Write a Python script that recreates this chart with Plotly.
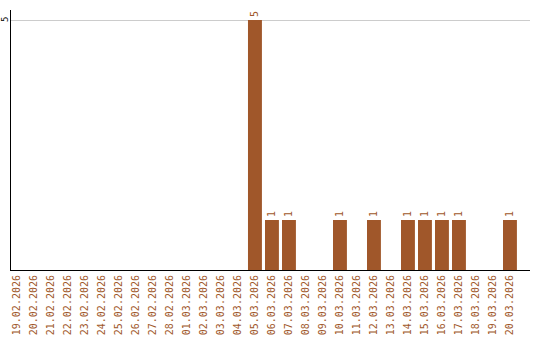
import plotly.graph_objects as go

dates = ["19.02.2026","20.02.2026","21.02.2026","22.02.2026","23.02.2026","24.02.2026","25.02.2026",
         "26.02.2026","27.02.2026","28.02.2026","01.03.2026","02.03.2026","03.03.2026","04.03.2026",
         "05.03.2026","06.03.2026","07.03.2026","08.03.2026","09.03.2026","10.03.2026","11.03.2026",
         "12.03.2026","13.03.2026","14.03.2026","15.03.2026","16.03.2026","17.03.2026","18.03.2026",
         "19.03.2026","20.03.2026"]
values = [0,0,0,0,0,0,0,0,0,0,0,0,0,0,5,1,1,0,0,1,0,1,0,1,1,1,1,0,0,1]
labels = [str(v) if v else "" for v in values]
ytick = 5

color = "#A0572A"
fig = go.Figure(go.Bar(
    x=list(range(len(dates))), y=values, text=labels,
    textposition="outside", textangle=-90, cliponaxis=False,
    textfont=dict(family="DejaVu Sans Mono", size=10, color=color),
    marker=dict(color=color, line=dict(width=0)), width=0.82,
))
fig.add_annotation(x=0, xref="paper", y=ytick, yref="y", text=str(ytick), textangle=-90,
                   showarrow=False, xanchor="center", yanchor="middle", xshift=-6,
                   borderpad=0,
                   font=dict(family="DejaVu Sans Mono", size=9, color="black"))
fig.update_layout(
    width=540, height=340, margin=dict(l=11, r=10, t=10, b=70),
    plot_bgcolor="white", paper_bgcolor="white", showlegend=False,
    xaxis=dict(tickmode="array", tickvals=list(range(len(dates))), ticktext=dates,
               tickangle=-90, range=[-0.35, 30.18], showgrid=False, zeroline=False,
               showline=True, linecolor="black", linewidth=1, ticks="", automargin=False,
               tickfont=dict(family="DejaVu Sans Mono", size=10, color=color)),
    yaxis=dict(range=[0, 5.2], tickvals=[ytick], showticklabels=False,
               showgrid=True, gridcolor="#cccccc", zeroline=False, showline=True,
               linecolor="black", linewidth=1, ticks="", automargin=False),
)
fig.write_html("out.html")
